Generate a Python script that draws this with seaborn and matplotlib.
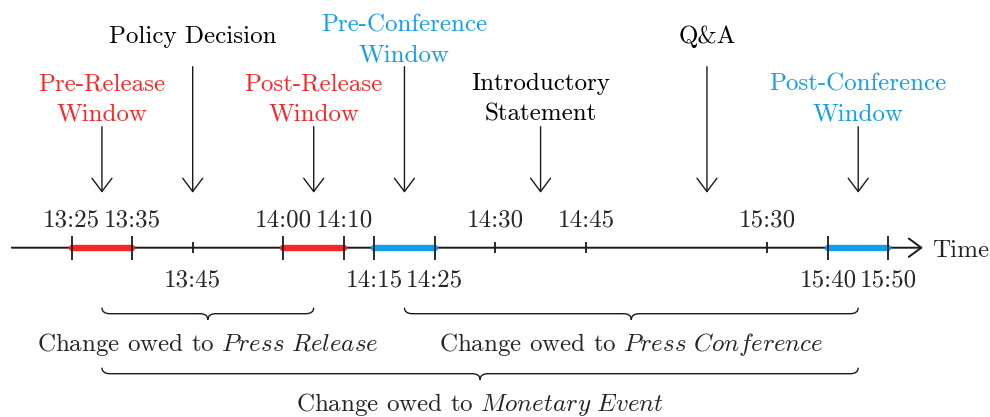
import numpy as np
import pandas as pd
import matplotlib
matplotlib.use('Agg')
import matplotlib.pyplot as plt
from matplotlib.path import Path
from matplotlib.patches import PathPatch
import seaborn as sns

# clock times on the line and their slot on the (non-linear) timeline
times = ['13:25', '13:35', '13:45', '14:00', '14:10', '14:15',
         '14:25', '14:30', '14:45', '15:30', '15:40', '15:50']
slots = [0, 2, 4, 7, 9, 10, 12, 14, 17, 23, 25, 27]
label_side = ['up', 'up', 'down', 'up', 'up', 'down',
              'down', 'up', 'up', 'up', 'down', 'down']

# measurement windows
win_start = ['13:25', '14:00', '14:15', '15:40']
win_end = ['13:35', '14:10', '14:25', '15:50']
win_kind = ['release', 'release', 'conference', 'conference']

# events pointed at from above
event_labels = ['Pre-Release\nWindow', 'Policy Decision', 'Post-Release\nWindow',
                'Pre-Conference\nWindow', 'Introductory\nStatement', 'Q&A',
                'Post-Conference\nWindow']
event_slots = [1, 4, 8, 11, 15.5, 21, 26]
event_kind = ['release', 'plain', 'release', 'conference', 'plain', 'plain', 'conference']
event_level = ['low', 'high', 'low', 'high', 'low', 'high', 'low']

# braces below the line
brace_start = [1, 11, 1]
brace_end = [8, 26, 26]
brace_row = [0, 0, 1]
brace_labels = [r'Change owed to $\mathit{Press\ Release}$',
                r'Change owed to $\mathit{Press\ Conference}$',
                r'Change owed to $\mathit{Monetary\ Event}$']

palette = {'release': '#f42828', 'conference': '#129ee8', 'plain': 'black'}

sns.set_theme(style='white')
plt.rcParams['font.family'] = ['cmr10', 'DejaVu Serif']
plt.rcParams['mathtext.fontset'] = 'cm'
plt.rcParams['axes.unicode_minus'] = False
plt.rcParams['axes.formatter.use_mathtext'] = True

FS = 18
PX = 30.25  # pixels per slot
line_col = '#1a1a1a'

fig = plt.figure(figsize=(9.9, 4.17), dpi=100)
ax = fig.add_axes([0, 0, 1, 1])
ax.set_xlim(-71.7 / PX, (990 - 71.7) / PX)
ax.set_ylim(-169.3, 247.7)
ax.axis('off')

pos = dict(zip(times, slots))

# main time axis
ax.annotate('', xy=(slots[-1] + 1.14, 0), xytext=(-1.98, 0),
            arrowprops=dict(arrowstyle='->,head_length=0.75,head_width=0.55',
                            mutation_scale=12, lw=1.4, color=line_col,
                            shrinkA=0, shrinkB=0))
ax.text(slots[-1] + 1.45, -9, 'Time', ha='left', va='baseline', fontsize=FS)

# windows
windows = pd.DataFrame({'start': [pos[t] for t in win_start],
                        'end': [pos[t] for t in win_end],
                        'kind': win_kind})
for _, w in windows.iterrows():
    sns.lineplot(x=[w['start'], w['end']], y=[0, 0], color=palette[w['kind']],
                 lw=4.6, ax=ax, zorder=3)

# ticks and their labels
edges = set(win_start) | set(win_end)
for t, s, side in zip(times, slots, label_side):
    h = 12 if t in edges else 5.5
    ax.plot([s, s], [-h, h], color=line_col, lw=1.3, zorder=4, solid_capstyle='butt')
    y = 21 if side == 'up' else -39
    ax.text(s, y, t, ha='center', va='baseline', fontsize=FS)

# events with arrows
for lab, s, kind, lvl in zip(event_labels, event_slots, event_kind, event_level):
    top = 121 if lvl == 'low' else 181
    ax.annotate('', xy=(s, 55), xytext=(s, top),
                arrowprops=dict(arrowstyle='->,head_length=0.8,head_width=0.6',
                                mutation_scale=12, lw=1.0, color=line_col,
                                shrinkA=0, shrinkB=0))
    # baseline of the last line
    if lvl == 'low':
        ty = 127
    elif '\n' in lab:
        ty = 186
    else:
        ty = 205
    ax.text(s, ty, lab, ha='center', va='baseline', fontsize=FS,
            color=palette[kind], linespacing=1.5)


def brace(x0, x1, ytop, depth, r=8):
    rx = r / PX
    xm = (x0 + x1) / 2
    ym = ytop - depth / 2
    yb = ytop - depth
    verts = [(x0, ytop), (x0, ym), (x0 + rx, ym),
             (xm - rx, ym), (xm, ym), (xm, yb),
             (xm, ym), (xm + rx, ym),
             (x1 - rx, ym), (x1, ym), (x1, ytop)]
    codes = [Path.MOVETO, Path.CURVE3, Path.CURVE3,
             Path.LINETO, Path.CURVE3, Path.CURVE3,
             Path.CURVE3, Path.CURVE3,
             Path.LINETO, Path.CURVE3, Path.CURVE3]
    return PathPatch(Path(verts, codes), fill=False, lw=1.0, edgecolor=line_col)


for x0, x1, row, lab in zip(brace_start, brace_end, brace_row, brace_labels):
    ytop = -60 if row == 0 else -120
    ax.add_patch(brace(x0, x1, ytop, 12))
    ax.text((x0 + x1) / 2, ytop - 37, lab, ha='center', va='center', fontsize=FS)

fig.savefig('out.png', dpi=100)
